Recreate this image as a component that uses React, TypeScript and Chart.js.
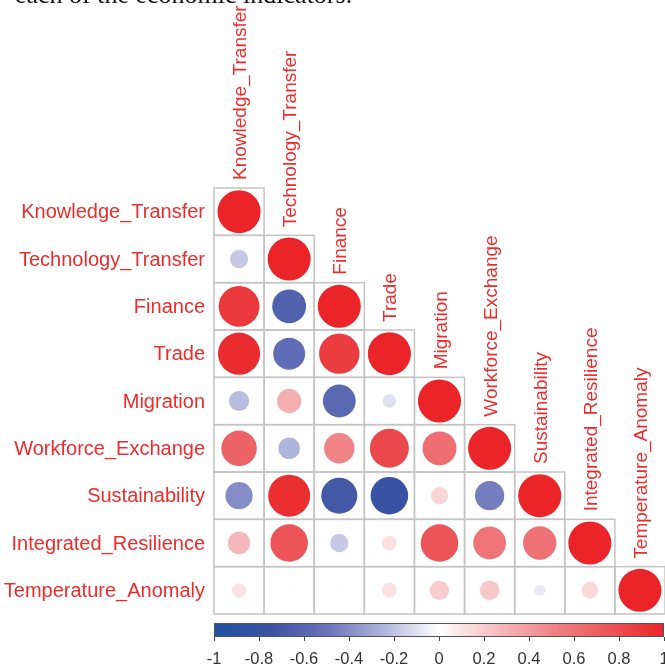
import React, { useEffect, useRef } from "react";
import { Chart, registerables } from "chart.js";

Chart.register(...registerables);

// Indicator names (rows top to bottom, columns left to right)
const variables = [
  "Knowledge_Transfer",
  "Technology_Transfer",
  "Finance",
  "Trade",
  "Migration",
  "Workforce_Exchange",
  "Sustainability",
  "Integrated_Resilience",
  "Temperature_Anomaly",
];

// Lower-triangle correlation coefficients, one array per row
const rKnowledge = [1];
const rTechnology = [-0.18, 1];
const rFinance = [0.9, -0.62, 1];
const rTrade = [0.96, -0.55, 0.88, 1];
const rMigration = [-0.22, 0.32, -0.58, -0.1, 1];
const rWorkforce = [0.68, -0.25, 0.5, 0.82, 0.62, 1];
const rSustainability = [-0.4, 0.95, -0.7, -0.76, 0.16, -0.46, 1];
const rResilience = [0.27, 0.76, -0.18, 0.12, 0.76, 0.58, 0.6, 1];
const rTemperature = [0.11, 0.01, 0.01, 0.12, 0.2, 0.21, -0.07, 0.15, 1];

const corrRows = [
  rKnowledge,
  rTechnology,
  rFinance,
  rTrade,
  rMigration,
  rWorkforce,
  rSustainability,
  rResilience,
  rTemperature,
];

// Colour legend ticks
const barTicks = [-1, -0.8, -0.6, -0.4, -0.2, 0, 0.2, 0.4, 0.6, 0.8, 1];
const barTickLabels = ["-1", "-0.8", "-0.6", "-0.4", "-0.2", "0", "0.2", "0.4", "0.6", "0.8", "1"];

const caption = "each of the economic indicators.";

// Diverging blue-white-red palette
const paletteStops: [number, [number, number, number]][] = [
  [-1, [30, 82, 163]],
  [-0.75, [58, 82, 163]],
  [-0.5, [105, 115, 185]],
  [-0.25, [176, 179, 219]],
  [0, [255, 255, 255]],
  [0.25, [246, 190, 192]],
  [0.5, [240, 132, 135]],
  [0.75, [236, 86, 89]],
  [1, [234, 36, 40]],
];

function colorFor(v: number): string {
  const x = Math.max(-1, Math.min(1, v));
  for (let k = 0; k < paletteStops.length - 1; k++) {
    const [a, ca] = paletteStops[k];
    const [b, cb] = paletteStops[k + 1];
    if (x >= a && x <= b) {
      const t = (x - a) / (b - a);
      const c = ca.map((q, i) => Math.round(q + (cb[i] - q) * t));
      return `rgb(${c[0]},${c[1]},${c[2]})`;
    }
  }
  return "white";
}

const LABEL_RED = "#EE2B2B";
const SANS = '"Liberation Sans", Arial, sans-serif';

const corrPlugin = {
  id: "corrDecor",
  beforeDatasetsDraw(chart: any) {
    const { ctx, scales } = chart;
    const xs = scales.x;
    const ys = scales.y;
    ctx.save();
    ctx.strokeStyle = "#C4C4C4";
    ctx.lineWidth = 1.5;
    corrRows.forEach((row, i) => {
      row.forEach((_v, j) => {
        const x0 = xs.getPixelForValue(j - 0.5);
        const x1 = xs.getPixelForValue(j + 0.5);
        const y0 = ys.getPixelForValue(i - 0.5);
        const y1 = ys.getPixelForValue(i + 0.5);
        ctx.strokeRect(x0, y0, x1 - x0, y1 - y0);
      });
    });
    ctx.restore();
  },
  afterDraw(chart: any) {
    const { ctx, scales, chartArea } = chart;
    const xs = scales.x;
    const ys = scales.y;
    ctx.save();

    // caption line above the figure
    ctx.fillStyle = "#111";
    ctx.font = '26px "Liberation Serif", "Times New Roman", serif';
    ctx.textAlign = "left";
    ctx.textBaseline = "alphabetic";
    ctx.fillText(caption, 15, 3);

    // row labels
    ctx.fillStyle = LABEL_RED;
    ctx.font = `20px ${SANS}`;
    ctx.textAlign = "right";
    ctx.textBaseline = "middle";
    variables.forEach((name, i) => {
      ctx.fillText(name, chartArea.left - 9, ys.getPixelForValue(i) + 1);
    });

    // column labels, rotated, sitting on top of the diagonal cells
    ctx.font = `19px ${SANS}`;
    ctx.textAlign = "left";
    ctx.textBaseline = "alphabetic";
    variables.forEach((name, j) => {
      const xc = xs.getPixelForValue(j);
      const top = ys.getPixelForValue(j - 0.5);
      ctx.save();
      ctx.translate(xc + 7, top - 8);
      ctx.rotate(-Math.PI / 2);
      ctx.fillText(name, 0, 0);
      ctx.restore();
    });

    // colour legend bar
    const bx0 = chartArea.left;
    const bx1 = chartArea.right - 1;
    const by0 = 623;
    const bh = 14;
    const toX = (v: number) => bx0 + ((v + 1) / 2) * (bx1 - bx0);
    const grad = ctx.createLinearGradient(bx0, 0, bx1, 0);
    paletteStops.forEach(([v]) => grad.addColorStop((v + 1) / 2, colorFor(v)));
    ctx.fillStyle = grad;
    ctx.fillRect(bx0, by0, bx1 - bx0, bh);
    ctx.strokeStyle = "#555";
    ctx.lineWidth = 1;
    ctx.strokeRect(bx0 + 0.5, by0 + 0.5, bx1 - bx0 - 1, bh - 1);

    ctx.strokeStyle = "#444";
    ctx.fillStyle = "#333";
    ctx.font = `16.5px ${SANS}`;
    ctx.textAlign = "center";
    ctx.textBaseline = "middle";
    barTicks.forEach((v, k) => {
      const x = Math.round(toX(v)) + 0.5;
      ctx.beginPath();
      ctx.moveTo(x, by0 + bh);
      ctx.lineTo(x, by0 + bh + 4);
      ctx.stroke();
      ctx.fillText(barTickLabels[k], toX(v), 659);
    });

    ctx.restore();
  },
};

export default function App() {
  const canvasRef = useRef<HTMLCanvasElement | null>(null);

  useEffect(() => {
    document.body.style.margin = "0";
    const canvas = canvasRef.current;
    if (!canvas) return;

    const points: { x: number; y: number; v: number }[] = [];
    corrRows.forEach((row, i) => row.forEach((v, j) => points.push({ x: j, y: i, v })));

    const radiusFor = (c: any) => {
      const raw = c.raw;
      if (!raw) return 0;
      const ys = c.chart.scales.y;
      const cellH = Math.abs(ys.getPixelForValue(1) - ys.getPixelForValue(0));
      return 0.455 * cellH * Math.sqrt(Math.abs(raw.v));
    };

    const chart = new Chart(canvas, {
      type: "scatter",
      data: {
        datasets: [
          {
            data: points as any,
            pointRadius: radiusFor,
            pointHoverRadius: radiusFor,
            backgroundColor: (c: any) => (c.raw ? colorFor(c.raw.v) : "white"),
            borderWidth: 0,
            clip: false as any,
          },
        ],
      },
      options: {
        responsive: false,
        animation: false,
        devicePixelRatio: 1,
        events: [],
        layout: { padding: { left: 214, right: 0, top: 188, bottom: 52 } },
        scales: {
          x: { type: "linear", min: -0.5, max: 8.5, display: false },
          y: { type: "linear", min: -0.5, max: 8.5, reverse: true, display: false },
        },
        plugins: {
          legend: { display: false },
          tooltip: { enabled: false },
        },
      },
      plugins: [corrPlugin],
    });

    return () => chart.destroy();
  }, []);

  return (
    <div style={{ width: 665, height: 666, background: "#fff" }}>
      <canvas ref={canvasRef} width={665} height={666} style={{ display: "block" }} />
    </div>
  );
}
